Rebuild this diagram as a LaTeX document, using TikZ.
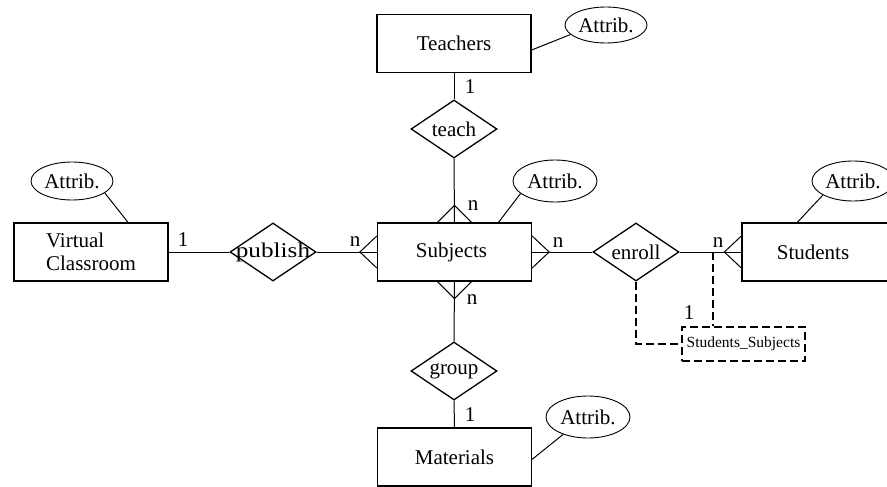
\documentclass[tikz,border=0pt]{standalone}
\usepackage{fontspec}
\setmainfont{Liberation Serif}
\usetikzlibrary{shapes.geometric,calc}
\begin{document}
\begin{tikzpicture}[x=1pt,y=-1pt,
  txt/.style={font=\fontsize{21}{23}\selectfont},
  ent/.style={draw,line width=1.3pt,minimum width=154pt,minimum height=58pt,inner sep=0pt,txt},
  rel/.style={draw,diamond,line width=1.3pt,minimum width=86pt,minimum height=58pt,inner sep=0pt},
  attr/.style={draw,ellipse,line width=0.9pt,minimum width=82pt,minimum height=38pt,inner sep=0pt,txt},
  conn/.style={line width=1pt},
  dconn/.style={line width=1.1pt,dash pattern=on 8pt off 4pt},
  card/.style={txt,inner sep=0pt},
  rtext/.style={txt,inner sep=0pt}
]
\path[use as bounding box,fill=white] (0,0) rectangle (887,487);
\clip (0,0) rectangle (887,487);

% entities
\node[ent] (T) at (454,43.5) {Teachers};
\node[ent] (S) at (454.5,252) {\hspace*{-6pt}Subjects};
\node[ent,align=left] (V) at (91,252) {Virtual\\Classroom};
\node[ent] (St) at (819,252) {\hspace*{-12pt}Students};
\node[ent] (M) at (454.5,457) {Materials};

% relationships
\node[rel] (teach) at (454,129) {};
\node[rtext] (teachL) at (teach) {teach};
\node[rel] (pub) at (273,252) {};
\node[rtext] (pubL) at (pub) {\scalebox{1.2}[1]{publish}};
\node[rel] (enr) at (636,252) {};
\node[rtext] (enrL) at (enr) {enroll};
\node[rel] (grp) at (454,371) {};
\node[rtext] (grpL) at (grp) {group};

% attributes
\node[attr,minimum height=36pt] (aT) at (606,25) {Attrib.};
\node[attr,minimum width=84pt,minimum height=42pt] (aS) at (555,181) {Attrib.};
\node[attr] (aV) at (72,181) {Attrib.};
\node[attr,minimum height=40pt] (aSt) at (853,181) {Attrib.};
\node[attr,minimum width=84pt,minimum height=42pt] (aM) at (588,417) {Attrib.};

% associative entity
\node[draw,dconn,minimum width=123pt,minimum height=34pt,inner sep=0pt,font=\fontsize{15.5}{18}\selectfont] (SS) at (743.5,344) {Students\_Subjects};

% connectors
\draw[conn] (T.south) -- (teach.north);
\draw[conn] (teach.south) -- (S.north);
\draw[conn] (S.south) -- (grp.north);
\draw[conn] (grp.south) -- (M.north);
\draw[conn] (V.east) -- (pub.west);
\draw[conn] (pub.east) -- (S.west);
\draw[conn] (S.east) -- (enr.west);
\draw[conn] (enr.east) -- (St.west);

% crow's feet
\draw[conn] ($(S.north)+(-17,0)$) -- ($(S.north)+(0,-17)$) -- ($(S.north)+(17,0)$);
\draw[conn] ($(S.south)+(-17,0)$) -- ($(S.south)+(0,17)$) -- ($(S.south)+(17,0)$);
\draw[conn] ($(S.west)+(0,-16)$) -- ($(S.west)+(-17,0)$) -- ($(S.west)+(0,16)$);
\draw[conn] ($(S.east)+(0,-16)$) -- ($(S.east)+(17,0)$) -- ($(S.east)+(0,16)$);
\draw[conn] ($(St.west)+(0,-16)$) -- ($(St.west)+(-17,0)$) -- ($(St.west)+(0,16)$);

% attribute links
\draw[conn] (aT.195) -- ($(T.east)+(0,6.5)$);
\draw[conn] (aS.200) -- ($(S.north)+(44,0)$);
\draw[conn] (aV.340) -- ($(V.north)+(37,0)$);
\draw[conn] (aSt.205) -- ($(St.north west)+(56,0)$);
\draw[conn] (aM.215) -- ($(M.north east)+(0,32)$);

% dashed links
\draw[dconn] (enr.south) |- (SS.west);
\coordinate (J) at (713,252);
\draw[dconn] (J) -- (J |- SS.north);

% cardinalities
\node[card] (c1) at (470,87) {1};
\node[card] (c2) at (473,206) {n};
\node[card] (c3) at (355,242) {n};
\node[card] (c4) at (183,240) {1};
\node[card] (c5) at (558,243) {n};
\node[card] (c6) at (718,243) {n};
\node[card] (c7) at (472,300) {n};
\node[card] (c8) at (470,415) {1};
\node[card] (c9) at (689,313) {1};
\end{tikzpicture}
\end{document}
